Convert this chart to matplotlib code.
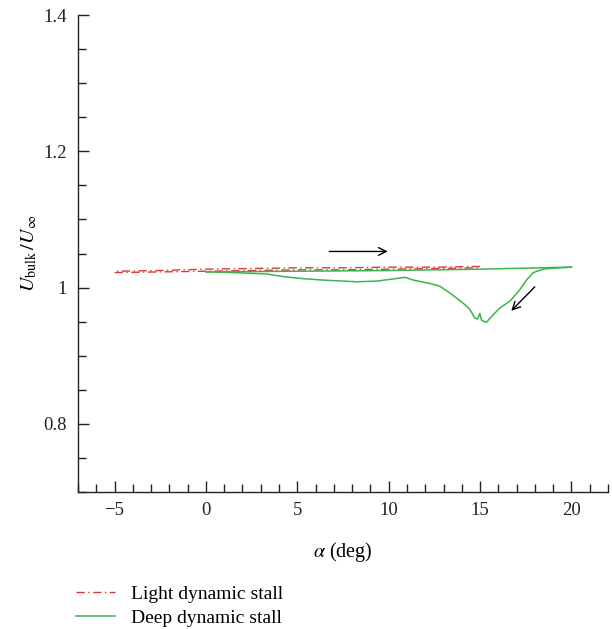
import matplotlib
matplotlib.use("Agg")
import matplotlib.pyplot as plt
from matplotlib.ticker import MultipleLocator

plt.rcParams['font.family'] = ['Liberation Serif', 'DejaVu Serif']
plt.rcParams['mathtext.fontset'] = 'stix'

# Light dynamic stall (upstroke / downstroke)
light_up_alpha = [-5, -2.5, 0, 2.5, 5, 7.5, 10, 12.5, 15]
light_up_u = [1.022, 1.023, 1.024, 1.025, 1.026, 1.026, 1.027, 1.028, 1.029]
light_down_alpha = [15, 12.5, 10, 7.5, 5, 2.5, 0, -2.5, -5]
light_down_u = [1.031, 1.030, 1.030, 1.029, 1.029, 1.028, 1.027, 1.025, 1.024]

# Deep dynamic stall upstroke
deep_up_alpha = [0.0, 5.0, 10.0, 15.0, 20.0]
deep_up_u = [1.023, 1.024, 1.025, 1.027, 1.030]

# Deep dynamic stall downstroke
deep_down_alpha = [20.0, 19.4, 18.82, 18.45, 17.91, 17.54, 17.18, 16.63, 16.08,
                   15.54, 15.35, 15.08, 14.99, 14.86, 14.72, 14.44, 14.08, 13.35,
                   12.8, 12.26, 11.34, 10.89, 10.07, 9.34, 8.25, 7.51, 6.42,
                   5.33, 4.23, 3.32, 1.5, 0.0]
deep_down_u = [1.030, 1.029, 1.028, 1.027, 1.022, 1.011, 0.997, 0.980, 0.970,
               0.955, 0.949, 0.952, 0.962, 0.954, 0.955, 0.968, 0.977, 0.992,
               1.002, 1.006, 1.011, 1.015, 1.012, 1.0095, 1.0085, 1.0095, 1.011,
               1.013, 1.016, 1.020, 1.022, 1.023]

fig = plt.figure(figsize=(6.12, 6.29), dpi=100)
ax = fig.add_axes([78/612, 1-492/629, 530/612, (492-15)/629])

red = '#d8393c'
green = '#3cb44b'
l1, = ax.plot(light_up_alpha, light_up_u, color=red, lw=1.0,
              dashes=[6, 2.5, 1, 2.5], label='Light dynamic stall')
ax.plot(light_down_alpha, light_down_u, color=red, lw=1.0, dashes=[6, 2.5, 1, 2.5])
l2, = ax.plot(deep_up_alpha, deep_up_u, color=green, lw=1.1, label='Deep dynamic stall')
ax.plot(deep_down_alpha, deep_down_u, color=green, lw=1.1)

ax.annotate('', xy=(10.1, 1.053), xytext=(6.6, 1.053),
            arrowprops=dict(arrowstyle='->', color='black', lw=1.0, mutation_scale=14))
ax.annotate('', xy=(16.6, 0.963), xytext=(18.1, 1.004),
            arrowprops=dict(arrowstyle='->', color='black', lw=1.0, mutation_scale=14))

ax.set_xlim(-7, 22)
ax.set_ylim(0.7, 1.4)
ax.xaxis.set_major_locator(MultipleLocator(5))
ax.xaxis.set_minor_locator(MultipleLocator(1))
ax.yaxis.set_major_locator(MultipleLocator(0.2))
ax.yaxis.set_minor_locator(MultipleLocator(0.05))
ax.set_yticks([0.8, 1.0, 1.2, 1.4])
ax.set_yticklabels(['0.8', '1', '1.2', '1.4'])
ax.set_xticks([-5, 0, 5, 10, 15, 20])
ax.set_xticklabels(['\u22125', '0', '5', '10', '15', '20'])

for s in ['top', 'right']:
    ax.spines[s].set_visible(False)
for s in ['left', 'bottom']:
    ax.spines[s].set_linewidth(1.0)
    ax.spines[s].set_color('#222222')
ax.tick_params(which='major', direction='in', length=8, width=1.0, labelsize=13.5, pad=8, colors='#222222')
ax.tick_params(which='minor', direction='in', length=5.5, width=1.0, colors='#222222')
ax.tick_params(axis='x', which='major', pad=7)

ax.set_xlabel(r'$\alpha$ (deg)', fontsize=14.5, labelpad=15)
ax.set_ylabel(r'$U_{\mathrm{bulk}}\,/U_{\infty}$', fontsize=14.5, labelpad=3)

fig.legend(handles=[l1, l2], loc='upper left', bbox_to_anchor=(76/612, 1-585/629),
           frameon=False, fontsize=14, handlelength=2.0, handletextpad=0.85,
           labelspacing=0.35, borderpad=0, borderaxespad=0)

fig.savefig('out.png', dpi=100)
